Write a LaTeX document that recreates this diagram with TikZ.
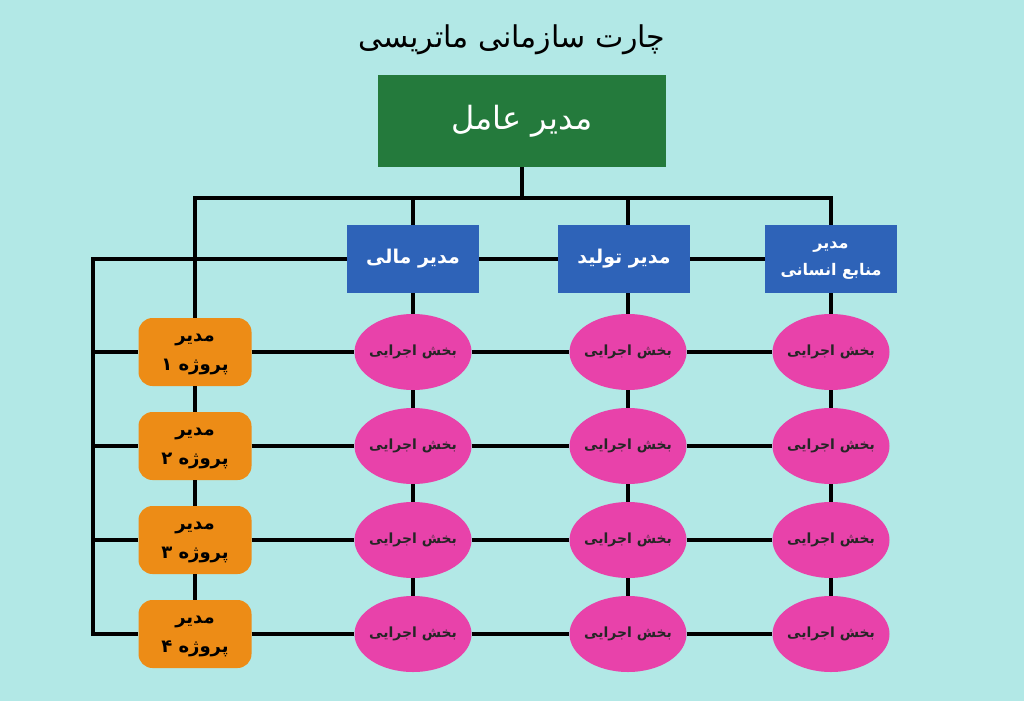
\documentclass[tikz,border=0pt]{standalone}
\usepackage{fontspec}
\usetikzlibrary{shapes.geometric}
\TeXXeTstate=1
\newfontfamily\farsi[Script=Arabic]{DejaVu Sans}
\definecolor{fond}{RGB}{178,232,230}
\definecolor{vert}{RGB}{36,122,60}
\definecolor{bleu}{RGB}{46,99,184}
\definecolor{orange}{RGB}{237,140,22}
\definecolor{rose}{RGB}{232,66,170}

\begin{document}
\begin{tikzpicture}[x=1pt,y=-1pt]
\tikzset{chef/.style={fill=vert, text=white, minimum width=288pt, minimum height=92pt, inner sep=0pt, font=\farsi\fontsize{32}{38}\selectfont}}
\tikzset{boite/.style={fill=bleu, text=white, minimum width=132pt, minimum height=68pt, inner sep=0pt, align=center, font=\farsi\bfseries\fontsize{19}{23}\selectfont}}
\tikzset{projet/.style={fill=orange, rounded corners=14pt, minimum width=113pt, minimum height=68pt, inner sep=0pt, text depth=0pt, align=center, font=\farsi\bfseries\fontsize{18}{29}\selectfont}}
\tikzset{bulle/.style={ellipse, fill=rose, text=black!85, minimum width=117pt, minimum height=76pt, inner sep=-8pt, font=\farsi\bfseries\fontsize{14}{16}\selectfont}}
\tikzset{trait/.style={line width=3.5pt}}
\fill[fond] (0,0) rectangle (1024,701);
\useasboundingbox (0,0) rectangle (1024,701);
\node[font=\farsi\fontsize{30}{36}\selectfont] (T) at (512,40) {\beginR چارت سازمانی ماتریسی\endR};
\node[chef] (D) at (522,121) {\beginR مدیر عامل\endR};
\node[boite] (M1) at (413,259) {\beginR مدیر مالی\endR};
\node[boite] (M2) at (624,259) {\beginR مدیر تولید\endR};
\node[boite, text depth=0pt, font=\farsi\bfseries\fontsize{16}{27}\selectfont] (M3) at (831,259) {\beginR مدیر\endR\\\beginR منابع انسانی\endR};
\node[projet] (P1) at (195,352) {\beginR مدیر\endR\\\beginR پروژه ۱\endR};
\node[projet] (P2) at (195,446) {\beginR مدیر\endR\\\beginR پروژه ۲\endR};
\node[projet] (P3) at (195,540) {\beginR مدیر\endR\\\beginR پروژه ۳\endR};
\node[projet] (P4) at (195,634) {\beginR مدیر\endR\\\beginR پروژه ۴\endR};
\node[bulle] (E11) at (413,352) {\beginR بخش اجرایی\endR};
\node[bulle] (E12) at (628,352) {\beginR بخش اجرایی\endR};
\node[bulle] (E13) at (831,352) {\beginR بخش اجرایی\endR};
\node[bulle] (E21) at (413,446) {\beginR بخش اجرایی\endR};
\node[bulle] (E22) at (628,446) {\beginR بخش اجرایی\endR};
\node[bulle] (E23) at (831,446) {\beginR بخش اجرایی\endR};
\node[bulle] (E31) at (413,540) {\beginR بخش اجرایی\endR};
\node[bulle] (E32) at (628,540) {\beginR بخش اجرایی\endR};
\node[bulle] (E33) at (831,540) {\beginR بخش اجرایی\endR};
\node[bulle] (E41) at (413,634) {\beginR بخش اجرایی\endR};
\node[bulle] (E42) at (628,634) {\beginR بخش اجرایی\endR};
\node[bulle] (E43) at (831,634) {\beginR بخش اجرایی\endR};
\coordinate (J0) at (522,198);
\coordinate (J1) at (413,198);
\coordinate (J2) at (628,198);
\coordinate (G) at (195,198);
\coordinate (H) at (831,198);
\coordinate (L0) at (93,259);
\coordinate (L1) at (93,352);
\coordinate (L2) at (93,446);
\coordinate (L3) at (93,540);
\coordinate (L4) at (93,634);
\draw[trait] (D) -- (J0);
\draw[trait] (P1) -- (G) -- (H) -- (M3);
\draw[trait] (J1) -- (M1);
\draw[trait] (J2) -- (J2 |- M2.north);
\draw[trait] (M1) -- (L0) -- (L4) -- (P4);
\draw[trait] (M1) -- (M2) -- (M3);
\draw[trait] (P1) -- (P2) -- (P3) -- (P4);
\draw[trait] (L1) -- (P1) -- (E11) -- (E12) -- (E13);
\draw[trait] (L2) -- (P2) -- (E21) -- (E22) -- (E23);
\draw[trait] (L3) -- (P3) -- (E31) -- (E32) -- (E33);
\draw[trait] (P4) -- (E41) -- (E42) -- (E43);
\draw[trait] (M1) -- (E11) -- (E21) -- (E31) -- (E41);
\draw[trait] (M2.south -| E12) -- (E12) -- (E22) -- (E32) -- (E42);
\draw[trait] (M3) -- (E13) -- (E23) -- (E33) -- (E43);
\end{tikzpicture}
\end{document}
